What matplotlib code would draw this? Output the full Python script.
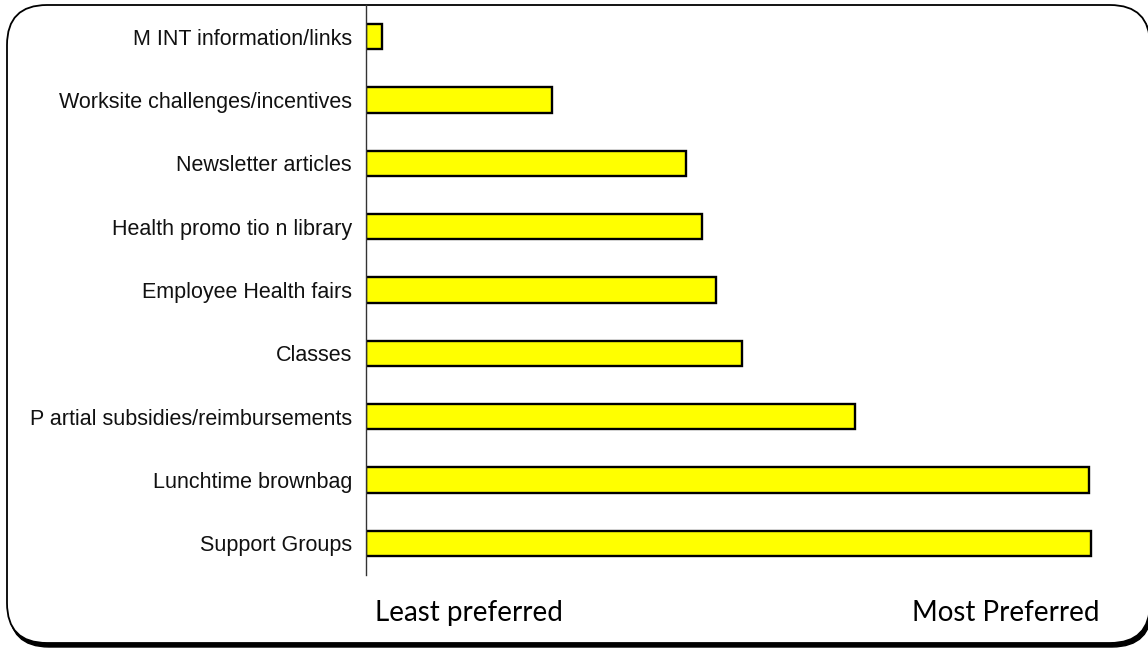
import matplotlib
matplotlib.use("Agg")
import matplotlib.pyplot as plt
from matplotlib.patches import FancyBboxPatch

categories = [
    "M INT information/links",
    "Worksite challenges/incentives",
    "Newsletter articles",
    "Health promo tio n library",
    "Employee Health fairs",
    "Classes",
    "P artial subsidies/reimbursements",
    "Lunchtime brownbag",
    "Support Groups",
]
values = [16, 186, 320, 336, 350, 376, 489, 723, 725]
low_label = "Least preferred"
high_label = "Most Preferred"

W, H = 1148, 649
fig = plt.figure(figsize=(W / 100, H / 100), dpi=100)
fig.patch.set_facecolor("white")

# background frame with rounded corners and shadow
bg = fig.add_axes([0, 0, 1, 1], zorder=0)
bg.set_xlim(0, W)
bg.set_ylim(H, 0)
bg.axis("off")
shadow = FancyBboxPatch((9, 9), 1150 - 7, 638, boxstyle="round,pad=0,rounding_size=40",
                        facecolor="black", edgecolor="black", linewidth=1)
frame = FancyBboxPatch((7, 5), 1150 - 7, 638, boxstyle="round,pad=0,rounding_size=40",
                       facecolor="white", edgecolor="black", linewidth=1.3)
bg.add_patch(shadow)
bg.add_patch(frame)

left = 366 / W
right = 1100 / W
top = 5 / H
bottom = 575 / H
ax = fig.add_axes([left, 1 - bottom, right - left, bottom - top], zorder=1)
ax.patch.set_alpha(0)

y = list(range(len(categories)))
ax.barh(y, values, height=0.4, color="#FFFF00", edgecolor="black", linewidth=1.7)
ax.set_ylim(len(categories) - 0.5, -0.5)
ax.set_xlim(0, 734)
ax.set_yticks(y)
ax.set_yticklabels(categories, fontsize=15.5, family="Liberation Sans", color="#111111")
ax.tick_params(axis="y", length=0, pad=10)
ax.set_xticks([])
for s in ["top", "right", "bottom"]:
    ax.spines[s].set_visible(False)
ax.spines["left"].set_linewidth(1)
ax.spines["left"].set_color("#333333")

bg.text(375, 613, low_label, fontsize=20, family="Lato", va="center", ha="left")
bg.text(1100, 613, high_label, fontsize=20, family="Lato", va="center", ha="right")

fig.savefig("out.png", dpi=100)
